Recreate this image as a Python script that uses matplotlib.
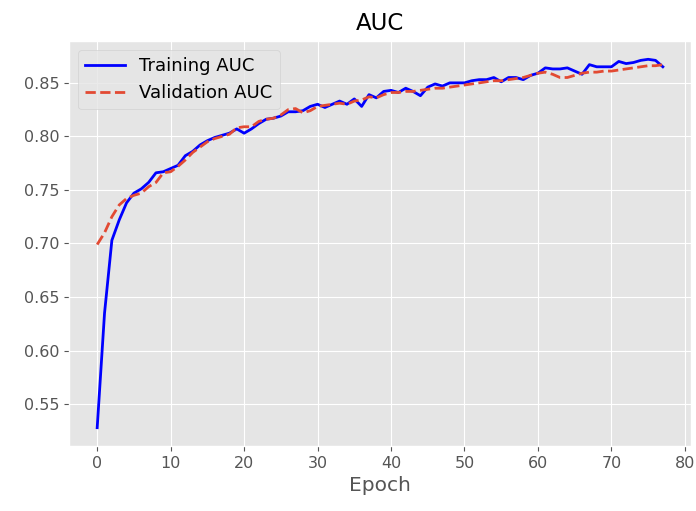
import numpy as np
import matplotlib
matplotlib.use("Agg")
import matplotlib.pyplot as plt

plt.style.use("ggplot")

# AUC per epoch
train_auc = [0.528, 0.635, 0.703, 0.722, 0.738, 0.747, 0.751, 0.757, 0.766, 0.767,
             0.770, 0.773, 0.782, 0.786, 0.792, 0.796, 0.799, 0.801, 0.803, 0.807,
             0.803, 0.807, 0.812, 0.816, 0.817, 0.819, 0.823, 0.823, 0.824, 0.828,
             0.830, 0.827, 0.830, 0.833, 0.830, 0.835, 0.828, 0.839, 0.836, 0.842,
             0.843, 0.841, 0.845, 0.842, 0.838, 0.846, 0.849, 0.847, 0.850, 0.850,
             0.850, 0.852, 0.853, 0.853, 0.855, 0.851, 0.855, 0.855, 0.853, 0.857,
             0.859, 0.864, 0.863, 0.863, 0.864, 0.861, 0.858, 0.867, 0.865, 0.865,
             0.865, 0.870, 0.868, 0.869, 0.871, 0.872, 0.871, 0.865]
val_auc = [0.699, 0.710, 0.725, 0.736, 0.742, 0.745, 0.747, 0.753, 0.757, 0.766,
           0.767, 0.772, 0.778, 0.785, 0.790, 0.795, 0.798, 0.800, 0.802, 0.808,
           0.809, 0.809, 0.814, 0.816, 0.817, 0.820, 0.825, 0.826, 0.822, 0.824,
           0.828, 0.829, 0.830, 0.831, 0.830, 0.833, 0.834, 0.837, 0.836, 0.839,
           0.841, 0.841, 0.842, 0.842, 0.843, 0.844, 0.845, 0.845, 0.846, 0.847,
           0.848, 0.849, 0.850, 0.851, 0.852, 0.852, 0.853, 0.854, 0.855, 0.857,
           0.859, 0.860, 0.858, 0.855, 0.855, 0.857, 0.859, 0.860, 0.860, 0.861,
           0.861, 0.862, 0.863, 0.864, 0.865, 0.866, 0.866, 0.867]
epochs = np.arange(len(train_auc))

fig = plt.figure(figsize=(6.96, 5.11), dpi=100)
ax = fig.add_axes([0.099, 0.127, 0.894, 0.793])

ax.plot(epochs, train_auc, color="blue", lw=2, label="Training AUC")
ax.plot(epochs, val_auc, color="#E24A33", lw=2, ls="--", label="Validation AUC")

ax.set_title("AUC", fontsize=16.5, color="black", pad=8)
ax.set_xlabel("Epoch", fontsize=14.5)
ax.tick_params(labelsize=11.5)
ax.set_xticks(range(0, 90, 10))
ax.legend(loc="upper left", fontsize=13, handlelength=2.2)

fig.savefig("out.png", dpi=100)
